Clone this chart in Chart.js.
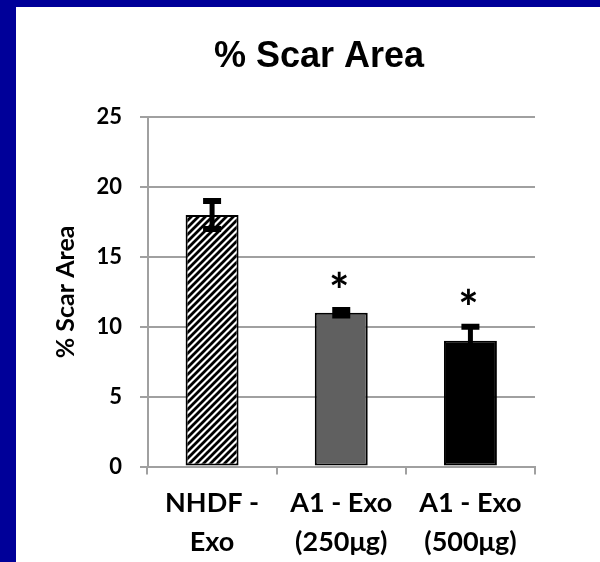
<!DOCTYPE html>
<html>
<head>
<meta charset="utf-8">
<script src="https://cdn.jsdelivr.net/npm/chart.js@4.4.1/dist/chart.umd.min.js"></script>
<style>
    html, body { margin: 0; padding: 0; width: 600px; height: 562px; overflow: hidden; background: #ffffff; }
    .frame { position: absolute; background: #000099; }
    #chart_box { position: absolute; left: 16px; top: 7px; width: 606px; height: 555px; background: #ffffff; }
</style>
</head>
<body>
<div id="chart_box"><canvas id="scar-chart" width="606" height="555"></canvas></div>
<div class="frame" style="left:0; top:0; width:600px; height:7px;"></div>
<div class="frame" style="left:0; top:0; width:16px; height:562px;"></div>
<script>
var categories = [["NHDF -", "Exo"], ["A1 - Exo", "(250μg)"], ["A1 - Exo", "(500μg)"]];
var scarArea = [18, 11, 9];
var scarError = [1.0, 0.2, 1.0];
var significance = ["", "*", "*"];
var yMin = 0, yMax = 25, yStep = 5;

// diagonal black/white hatch for the control bar
function makeHatch() {
    var c = document.createElement("canvas");
    c.width = 7; c.height = 7;
    var g = c.getContext("2d");
    g.fillStyle = "#ffffff";
    g.fillRect(0, 0, 7, 7);
    g.strokeStyle = "#000000";
    g.lineWidth = 2.8;
    g.beginPath();
    g.moveTo(-1, 8); g.lineTo(8, -1);
    g.moveTo(-4.5, 4.5); g.lineTo(4.5, -4.5);
    g.moveTo(2.5, 11.5); g.lineTo(11.5, 2.5);
    g.stroke();
    return g.createPattern(c, "repeat");
}

var ctx = document.getElementById("scar-chart").getContext("2d");
var barFills = [makeHatch(), "#606060", "#000000"];

var errorBars = {
    id: "errorBars",
    afterDatasetsDraw: function (chart) {
        var g = chart.ctx;
        var xs = chart.scales.x, ys = chart.scales.y;
        g.save();
        g.strokeStyle = "#000000";
        for (var i = 0; i < scarArea.length; i++) {
            var x = xs.getPixelForValue(i);
            var top = ys.getPixelForValue(scarArea[i] + scarError[i]);
            var bot = ys.getPixelForValue(scarArea[i] - scarError[i]);
            g.lineWidth = 5;
            g.beginPath(); g.moveTo(x, top); g.lineTo(x, bot); g.stroke();
            g.lineWidth = 6;
            g.beginPath();
            g.moveTo(x - 9, top); g.lineTo(x + 9, top);
            g.moveTo(x - 9, bot); g.lineTo(x + 9, bot);
            g.stroke();
            if (significance[i]) {
                g.font = "bold 48px Lato";
                g.fillStyle = "#000000";
                g.textAlign = "center";
                g.textBaseline = "alphabetic";
                var m = g.measureText(significance[i]);
                var mid = top - 30.5;
                g.fillText(significance[i], x - 2, mid + (m.actualBoundingBoxAscent - m.actualBoundingBoxDescent) / 2);
            }
        }
        g.restore();
    }
};

var gridGray = "#a0a0a0";

var scarChart = new Chart(ctx, {
    type: "bar",
    data: {
        labels: categories,
        datasets: [{
            data: scarArea,
            backgroundColor: barFills,
            borderColor: "#000000",
            borderWidth: 2,
            borderSkipped: false,
            categoryPercentage: 1.0,
            barPercentage: 0.41
        }]
    },
    options: {
        responsive: false,
        animation: false,
        devicePixelRatio: 1,
        layout: { padding: 0 },
        plugins: {
            legend: { display: false },
            tooltip: { enabled: false },
            title: {
                display: true,
                text: "% Scar Area",
                color: "#000000",
                font: { family: "'Liberation Sans', Arial", size: 36, weight: "bold" },
                padding: { top: 28, bottom: 39 }
            }
        },
        scales: {
            x: {
                afterFit: function (scale) { scale.height = 95.5; },
                grid: { display: true, drawOnChartArea: false, drawTicks: true, tickLength: 8, color: gridGray, lineWidth: 2, offset: true },
                border: { display: true, color: gridGray, width: 2 },
                ticks: {
                    color: "#000000",
                    padding: 9,
                    maxRotation: 0,
                    autoSkip: false,
                    font: { family: "Lato", size: 27, weight: "bold", lineHeight: 1.45 }
                }
            },
            y: {
                min: yMin,
                max: yMax,
                afterFit: function (scale) { scale.width = 131.5; },
                grid: { color: gridGray, lineWidth: 2, tickLength: 7.5, drawTicks: true },
                border: { display: true, color: gridGray, width: 2 },
                ticks: {
                    stepSize: yStep,
                    color: "#000000",
                    padding: 18,
                    font: { family: "Lato", size: 22, weight: "bold" }
                },
                title: {
                    display: true,
                    text: "% Scar Area",
                    color: "#000000",
                    padding: { top: 35, bottom: 0 },
                    font: { family: "Lato", size: 25, weight: "bold" }
                }
            },
            // empty right-hand box so the title centres where the original's does
            yRight: {
                type: "linear",
                position: "right",
                display: true,
                afterFit: function (scale) { scale.width = 87; },
                grid: { display: false },
                border: { display: false },
                ticks: { display: false },
                title: { display: false }
            }
        }
    },
    plugins: [errorBars]
});
</script>
</body>
</html>
